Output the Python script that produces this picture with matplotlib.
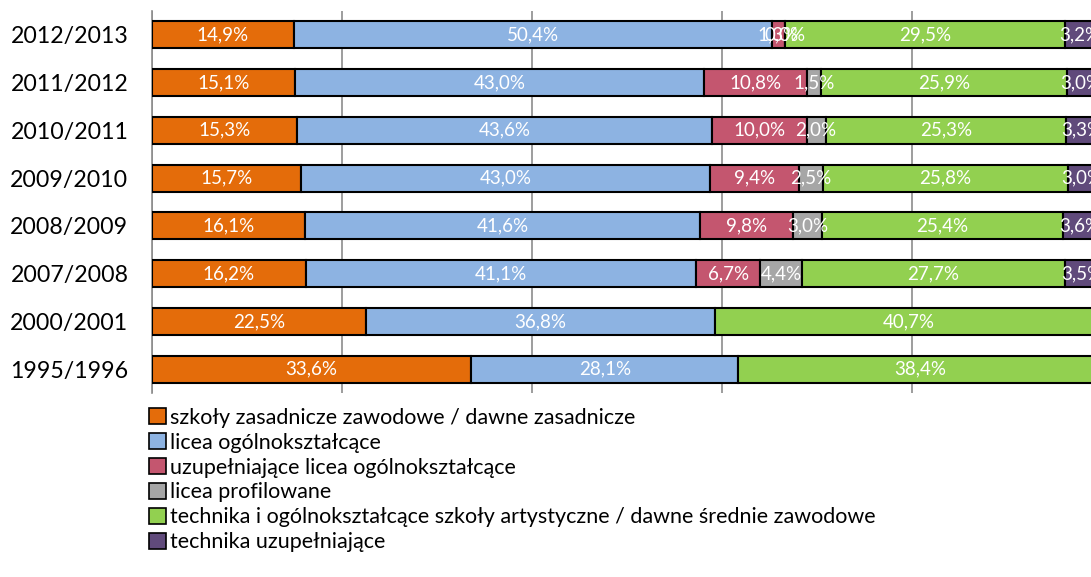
import numpy as np
import matplotlib.pyplot as plt

plt.rcParams['font.family'] = ['Lato', 'DejaVu Sans']

years = ["2012/2013", "2011/2012", "2010/2011", "2009/2010",
         "2008/2009", "2007/2008", "2000/2001", "1995/1996"]

series_names = [
    "szkoły zasadnicze zawodowe / dawne zasadnicze",
    "licea ogólnokształcące",
    "uzupełniające licea ogólnokształcące",
    "licea profilowane",
    "technika i ogólnokształcące szkoły artystyczne / dawne średnie zawodowe",
    "technika uzupełniające",
]

zasadnicze = [14.9, 15.1, 15.3, 15.7, 16.1, 16.2, 22.5, 33.6]
licea = [50.4, 43.0, 43.6, 43.0, 41.6, 41.1, 36.8, 28.1]
uzup_licea = [1.3, 10.8, 10.0, 9.4, 9.8, 6.7, None, None]
profilowane = [0.0, 1.5, 2.0, 2.5, 3.0, 4.4, None, None]
technika = [29.5, 25.9, 25.3, 25.8, 25.4, 27.7, 40.7, 38.4]
tech_uzup = [3.2, 3.0, 3.3, 3.0, 3.6, 3.5, None, None]

colors = ["#E46C0A", "#8DB3E2", "#C4566F", "#A6A6A6", "#92D050", "#604A7B"]

all_series = [zasadnicze, licea, uzup_licea, profilowane, technika, tech_uzup]

fig = plt.figure(figsize=(10.91, 5.77), dpi=100)
ax = fig.add_axes([152 / 1091, 1 - 393 / 577, 950 / 1091, 382 / 577])

y = np.arange(len(years))
left = np.zeros(len(years))
handles = []
for name, vals, col in zip(series_names, all_series, colors):
    for i, v in enumerate(vals):
        if v is None:
            continue
        ax.barh(y[i], v / 100, left=left[i], height=0.57, color=col,
                edgecolor="black", linewidth=1.5, zorder=3)
        ax.text(left[i] + v / 200, y[i], f"{v:.1f}%".replace(".", ","),
                ha="center", va="center", color="white", fontsize=13.5,
                zorder=4, clip_on=False)
        left[i] += v / 100
    handles.append(plt.Rectangle((0, 0), 1, 1, facecolor=col,
                                 edgecolor="black", linewidth=1.2))

ax.set_xlim(0, 1)
ax.set_ylim(len(years) - 0.5, -0.5)
ax.set_xticks(np.arange(0, 1.01, 0.2))
ax.set_xticklabels([])
ax.tick_params(axis="x", length=0)
ax.tick_params(axis="y", length=0, pad=17, labelsize=16.7)
ax.set_yticks(y)
ax.set_yticklabels(years)
ax.grid(axis="x", color="#8C8C8C", linewidth=1.2, zorder=0)
for s in ["top", "right", "bottom"]:
    ax.spines[s].set_visible(False)
ax.spines["left"].set_color("#8C8C8C")
ax.spines["left"].set_linewidth(1.2)

fig.legend(handles, series_names, loc="upper left",
           bbox_to_anchor=(140 / 1091, 1 - 399 / 577), frameon=False,
           fontsize=15.5, handlelength=0.8, handleheight=0.8,
           handletextpad=0.2, labelspacing=0.23, borderaxespad=0)

fig.savefig("out.png", dpi=100)
